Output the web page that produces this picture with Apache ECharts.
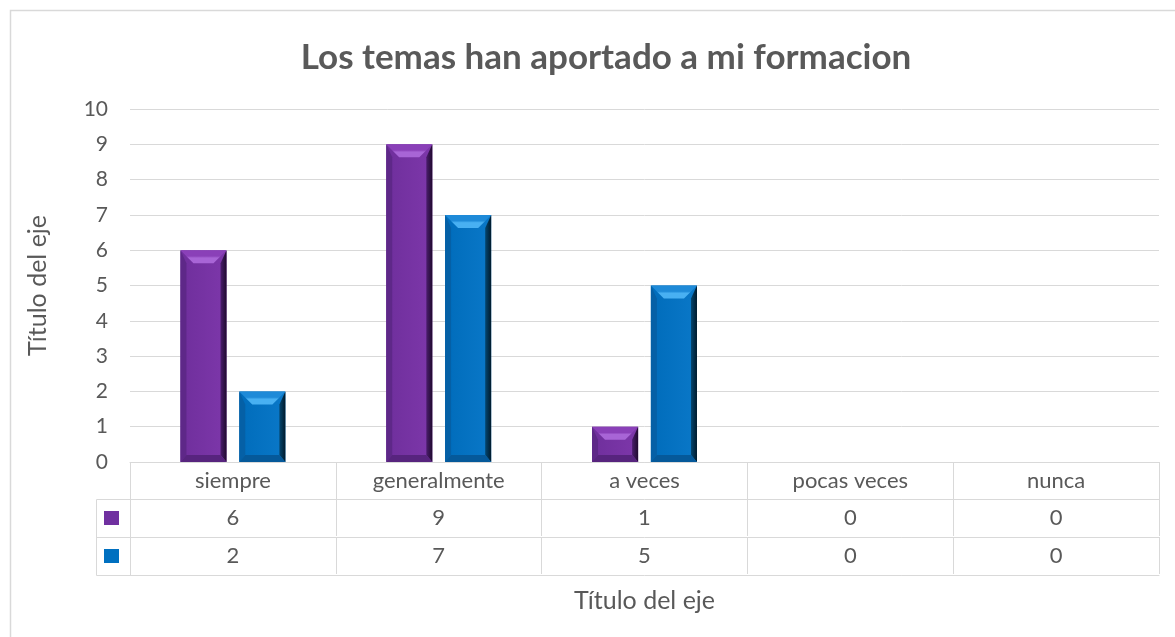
<!DOCTYPE html>
<html>
<head>
<meta charset="utf-8">
<script src="https://cdn.jsdelivr.net/npm/echarts@6/dist/echarts.min.js"></script>
<style>
  html, body { margin: 0; padding: 0; background: #fff; }
  #chart { width: 1175px; height: 637px; }
</style>
</head>
<body>
<div id="chart"></div>
<script>
// datos
var categorias = ['siempre', 'generalmente', 'a veces', 'pocas veces', 'nunca'];
var serie1 = [6, 9, 1, 0, 0];
var serie2 = [2, 7, 5, 0, 0];
var titulo = 'Los temas han aportado a mi formacion';
var tituloEje = 'Título del eje';

var fuente = 'Lato, "Open Sans", sans-serif';
var gris = '#595959';
var linea = '#d9d9d9';

// colores del bisel: cara, arriba, brillo, izquierda, derecha, abajo
var morado = { cara: ['#6f2f9c', '#7d37aa'], arriba: '#8a40b8', brillo: '#a865d6', izq: '#5e2888', der: ['#4a1d6c', '#1f0a2e'], abajo: '#57247e' };
var azul = { cara: ['#006cbb', '#0a78c8'], arriba: '#1e8ad8', brillo: '#48b0f2', izq: '#0560a6', der: ['#04466f', '#001a2c'], abajo: '#05599a' };

function barra(pal, desplaz) {
  return function (params, api) {
    var v = api.value(1);
    if (!v) return;
    var arriba = api.coord([api.value(0), v]);
    var base = api.coord([api.value(0), 0]);
    var banda = api.size([1, 0])[0];
    var w = banda * 0.224;
    var cx = arriba[0] + banda * desplaz;
    var x0 = cx - w / 2, x1 = cx + w / 2, y0 = arriba[1], y1 = base[1];
    var s = 6, st = 13, t = 13, b = 7;
    return {
      type: 'group',
      children: [
        { type: 'rect', shape: { x: x0, y: y0, width: w, height: y1 - y0 },
          style: { fill: new echarts.graphic.LinearGradient(0, 0, 1, 0, [{ offset: 0, color: pal.cara[0] }, { offset: 1, color: pal.cara[1] }]) } },
        { type: 'polygon', shape: { points: [[x0, y0], [x0 + s, y0 + t], [x0 + s, y1 - b], [x0, y1]] }, style: { fill: pal.izq } },
        { type: 'polygon', shape: { points: [[x1, y0], [x1 - s, y0 + t], [x1 - s, y1 - b], [x1, y1]] },
          style: { fill: new echarts.graphic.LinearGradient(0, 0, 1, 0, [{ offset: 0, color: pal.der[0] }, { offset: 1, color: pal.der[1] }]) } },
        { type: 'polygon', shape: { points: [[x0, y1], [x1, y1], [x1 - s, y1 - b], [x0 + s, y1 - b]] }, style: { fill: pal.abajo } },
        { type: 'polygon', shape: { points: [[x0, y0], [x1, y0], [x1 - st, y0 + t], [x0 + st, y0 + t]] },
          style: { fill: new echarts.graphic.LinearGradient(0, 0, 0, 1, [{ offset: 0, color: pal.arriba }, { offset: 0.45, color: pal.arriba }, { offset: 0.6, color: pal.brillo }, { offset: 1, color: pal.brillo }]) } }
      ]
    };
  };
}

function ejeTabla(datos, offset, extra) {
  return Object.assign({
    type: 'category',
    data: datos,
    position: 'bottom',
    offset: offset,
    boundaryGap: true,
    axisLine: { show: true, lineStyle: { color: linea, width: 1 } },
    axisTick: { show: true, interval: 0, length: 37, lineStyle: { color: linea, width: 1 } },
    axisLabel: { show: true, interval: 0, margin: 8, fontSize: 22, color: gris, fontFamily: fuente },
    splitLine: { show: false }
  }, extra || {});
}

var chart = echarts.init(document.getElementById('chart'));
chart.setOption({
  animation: false,
  textStyle: { fontFamily: fuente },
  title: {
    text: titulo,
    left: 601,
    textAlign: 'center',
    top: 35,
    textStyle: { fontSize: 35, fontWeight: 'bold', color: gris, fontFamily: fuente }
  },
  grid: { left: 130, right: 16, top: 109, bottom: 175, containLabel: false },
  legend: {
    orient: 'vertical',
    left: 104,
    top: 511,
    padding: 0,
    itemWidth: 15,
    itemHeight: 14,
    itemGap: 24,
    icon: 'rect',
    formatter: function () { return ''; },
    textStyle: { fontSize: 10, lineHeight: 14 },
    selectedMode: false,
    data: ['Serie1', 'Serie2']
  },
  xAxis: [
    ejeTabla(categorias, 0),
    ejeTabla(serie1.map(String), 37),
    ejeTabla(serie2.map(String), 75),
    ejeTabla(categorias, 113, {
      axisTick: { show: false },
      axisLabel: { show: false },
      name: tituloEje,
      nameLocation: 'middle',
      nameGap: 13,
      nameTextStyle: { fontSize: 25, color: gris, fontFamily: fuente, verticalAlign: 'top' }
    })
  ],
  yAxis: {
    type: 'value',
    min: 0,
    max: 10,
    interval: 1,
    axisLine: { show: false },
    axisTick: { show: false },
    axisLabel: { fontSize: 21, color: gris, margin: 22, fontFamily: fuente },
    splitLine: { lineStyle: { color: linea, width: 1 } },
    name: tituloEje,
    nameLocation: 'middle',
    nameGap: 80,
    nameRotate: 90,
    nameTextStyle: { fontSize: 25, color: gris, fontFamily: fuente }
  },
  graphic: [
    { type: 'rect', z: -10, shape: { x: 10.5, y: 10.5, width: 1300, height: 800 }, style: { fill: 'none', stroke: linea, lineWidth: 1.5 } },
    { type: 'rect', shape: { x: 96.5, y: 499.5, width: 34, height: 76 }, style: { fill: 'none', stroke: linea, lineWidth: 1 } },
    { type: 'line', shape: { x1: 96.5, y1: 537.5, x2: 130.5, y2: 537.5 }, style: { stroke: linea, lineWidth: 1 } }
  ],
  series: [
    {
      name: 'Serie1',
      type: 'custom',
      xAxisIndex: 0,
      renderItem: barra(morado, -0.143),
      itemStyle: { color: '#7030a0' },
      encode: { x: 0, y: 1 },
      data: serie1.map(function (v, i) { return [i, v]; })
    },
    {
      name: 'Serie2',
      type: 'custom',
      xAxisIndex: 0,
      renderItem: barra(azul, 0.143),
      itemStyle: { color: '#0070c0' },
      encode: { x: 0, y: 1 },
      data: serie2.map(function (v, i) { return [i, v]; })
    }
  ]
});
</script>
</body>
</html>
